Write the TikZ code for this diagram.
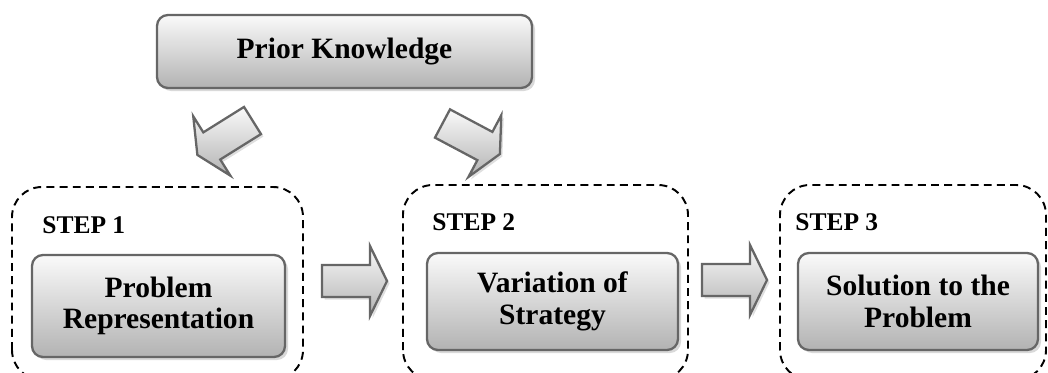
\documentclass[tikz,border=0pt]{standalone}
\usepackage{fontspec}
\setmainfont{Liberation Serif}
\usetikzlibrary{shadows}
\definecolor{boxedge}{HTML}{666666}
\tikzset{
  shadebox/.style={draw=boxedge, line width=1.3pt, rounded corners=0.22cm,
    top color=gray!4, bottom color=gray!60, shading angle=0,
    drop shadow={opacity=0.3, shadow xshift=0.06cm, shadow yshift=-0.06cm},
    align=center, inner sep=0pt,
    font=\fontsize{16.8}{18}\selectfont\bfseries},
  stepframe/.style={draw=black, line width=1.1pt, dash pattern=on 4.5pt off 3pt,
    rounded corners=0.6cm},
  steplabel/.style={anchor=base west, inner sep=0pt,
    font=\fontsize{14.5}{16}\selectfont\bfseries},
  arrowbody/.style={draw=boxedge, line width=1.3pt, line join=miter,
    top color=gray!4, bottom color=gray!60,
    drop shadow={opacity=0.25, shadow xshift=0.05cm, shadow yshift=-0.05cm}},
  blockarrow/.pic={
    \path[arrowbody] (0,0.32) -- (0.96,0.32) -- (0.96,0.7) -- (1.3,0)
      -- (0.96,-0.7) -- (0.96,-0.32) -- (0,-0.32) -- cycle;
  }
}
\begin{document}
\begin{tikzpicture}
\useasboundingbox (0,0) rectangle (20.96,7.44);
\clip (0,0) rectangle (20.96,7.44);
% dashed step frames
\draw[stepframe] (0.24,-0.16) rectangle (6.06,3.70);
\draw[stepframe] (8.06,-0.16) rectangle (13.76,3.74);
\draw[stepframe] (15.60,-0.16) rectangle (20.92,3.74);
% boxes
\node[shadebox, minimum width=7.5cm, minimum height=1.46cm] (prior) at (6.89,6.41) {Prior Knowledge};
\node[shadebox, minimum width=5.06cm, minimum height=2.04cm] (rep) at (3.17,1.32) {Problem\\Representation};
\node[shadebox, minimum width=5.02cm, minimum height=1.94cm] (var) at (11.05,1.41) {Variation of\\Strategy};
\node[shadebox, minimum width=4.80cm, minimum height=1.94cm] (sol) at (18.36,1.41) {Solution to the\\Problem};
% step labels
\node[steplabel] (s1) at (0.84,2.78) {STEP 1};
\node[steplabel] (s2) at (8.64,2.84) {STEP 2};
\node[steplabel] (s3) at (15.90,2.84) {STEP 3};
% block arrows
\pic[rotate=212] at (5.05,5.03) {blockarrow};
\pic[rotate=-28] at (8.85,4.97) {blockarrow};
\pic at (6.44,1.82) {blockarrow};
\pic at (14.04,1.84) {blockarrow};
\end{tikzpicture}
\end{document}
